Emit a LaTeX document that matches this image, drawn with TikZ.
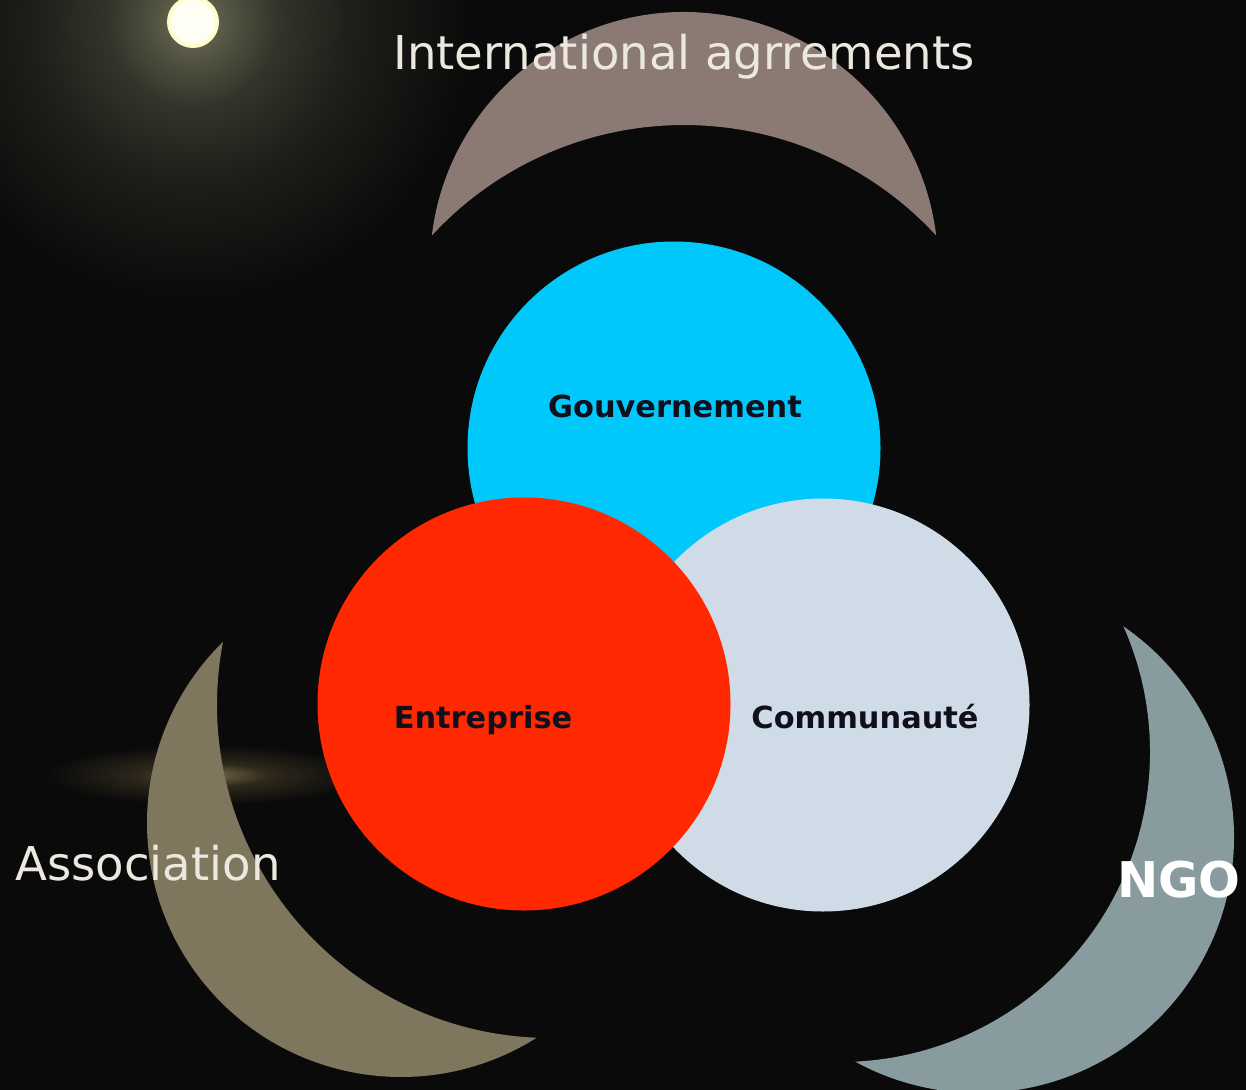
\documentclass[tikz,border=0pt]{standalone}
\usepackage{fontspec}
\setmainfont{DejaVu Sans}
\usetikzlibrary{positioning}

\definecolor{bgdark}{HTML}{0A0A0A}
\definecolor{glowcore}{HTML}{747460}
\definecolor{glowa}{HTML}{565644}
\definecolor{glowb}{HTML}{34342B}
\definecolor{glowc}{HTML}{1C1C18}
\definecolor{hazea}{HTML}{7A6C48}
\definecolor{hazeb}{HTML}{2E281C}
\definecolor{moontext}{HTML}{ECE8E0}
\definecolor{topmoon}{HTML}{8B7A74}
\definecolor{assocmoon}{HTML}{7F765E}
\definecolor{ngomoon}{HTML}{889CA0}
\definecolor{govblue}{HTML}{00C8FA}
\definecolor{redent}{HTML}{FF2800}
\definecolor{commgray}{HTML}{CFDCE7}
\definecolor{ink}{HTML}{10101C}

\pgfdeclareradialshading{moonglow}{\pgfpoint{0bp}{0bp}}{color(0bp)=(glowcore); color(3bp)=(glowa); color(7.5bp)=(glowb); color(15bp)=(glowc); color(25bp)=(bgdark); color(50bp)=(bgdark)}
\pgfdeclareradialshading{haze}{\pgfpoint{0bp}{0bp}}{color(0bp)=(hazea); color(10bp)=(hazeb); color(25bp)=(bgdark); color(50bp)=(bgdark)}

\tikzset{
  disc/.style={circle, minimum size=82.6mm, inner sep=0pt},
  inlabel/.style={anchor=base, text=ink, font=\bfseries\fontsize{17.3}{20}\selectfont},
  outlabel/.style={anchor=base, text=moontext, font=\fontsize{26.5}{30}\selectfont}
}

\begin{document}
\begin{tikzpicture}[x=0.2mm, y=-0.2mm]
  \clip (0,0) rectangle (1246,1090);
  \fill[bgdark] (0,0) rectangle (1246,1090);
  \shade[shading=moonglow] (193,22) circle (280);
  \shade[shading=haze] (205,775) ellipse (160 and 30);
  \fill[white!80!yellow] (193,22) circle (26);
  \fill[white!96!yellow] (193,22) circle (22);

  \fill[topmoon] (684,266) ++(186.90:254) arc[start angle=186.90, end angle=353.10, radius=254]
    arc[start angle=317.32, end angle=222.68, radius=343] -- cycle;
  \fill[assocmoon] (401,823) ++(225.53:254) arc[start angle=225.53, end angle=57.71, radius=254]
    arc[start angle=92.29, end angle=190.95, radius=333] -- cycle;
  \fill[ngomoon] (978,837) ++(-55.40:256) arc[start angle=-55.40, end angle=118.66, radius=256]
    arc[start angle=87.19, end angle=-23.93, radius=310] -- cycle;

  \node[disc, fill=govblue] (gouv) at (674,448) {};
  \node[disc, fill=commgray] (comm) at (823,705) {};
  \node[disc, fill=redent] (entr) at (524,704) {};

  \node[inlabel] (gouvtxt) at (675,417) {Gouvernement};
  \node[inlabel] (entrtxt) at (483,728) {Entreprise};
  \node[inlabel] (commtxt) at (865,728) {Communauté};

  \node[outlabel] (intl) at (684,70) {International agrrements};
  \node[outlabel] (assoc) at (148,880) {Association};
  \node[outlabel, text=white, font=\bfseries\fontsize{28}{32}\selectfont] (ngo) at (1179,897) {NGO};
\end{tikzpicture}
\end{document}
